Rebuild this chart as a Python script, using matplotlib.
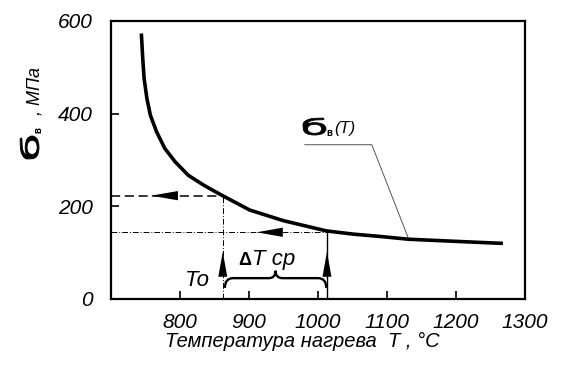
import matplotlib
matplotlib.use("Agg")
import matplotlib.pyplot as plt
import matplotlib.transforms as mtransforms
from matplotlib.path import Path
from matplotlib.patches import PathPatch
from matplotlib.textpath import TextPath
from matplotlib.font_manager import FontProperties

# curve sigma_b(T)
temp = [744, 746, 748, 752, 757, 766, 778, 793, 812, 834, 858, 901, 950,
        1012, 1051, 1090, 1131, 1206, 1268]
sigma = [573, 519, 476, 433, 397, 361, 325, 296, 267, 246, 226, 192, 169,
         147, 140, 135, 129, 124, 120]

xticks = [800, 900, 1000, 1100, 1200, 1300]
yticks = [0, 200, 400, 600]

t0, s0 = 862, 223       # To and the stress there
t1, s1 = 1013, 144      # upper end of the interval
arr_h = [(758, 797, s0), (911, 949, s1)]   # tip, base, level
arr_v = [(t0, 102, 48), (t1, 102, 48)]     # x, tip, base
leader = ([981, 1078, 1131], [333, 333, 131])

fnt = "Liberation Sans"

fig = plt.figure(figsize=(5.67, 3.72), dpi=100)
ax = fig.add_axes([111 / 567, 73 / 372, 414 / 567, 278 / 372])

ax.plot(temp, sigma, color="black", lw=2.6, solid_capstyle="butt",
        solid_joinstyle="round", zorder=5)

# guide lines
ax.plot([700, t0], [s0, s0], color="black", lw=1.1, ls=(0, (6, 3)))
ax.plot([t0, t0], [0, s0], color="black", lw=0.7, ls=(0, (6, 2, 1, 2)))
ax.plot([700, t1], [s1, s1], color="black", lw=0.7, ls=(0, (6, 2, 1, 2)))
ax.plot([t1, t1], [0, s1], color="black", lw=1.0)

for tip, base, lev in arr_h:
    ax.fill([tip, base, base], [lev, lev + 10, lev - 10], color="black", lw=0, zorder=6)
for x, tip, base in arr_v:
    ax.fill([x, x - 6.5, x + 6.5], [tip, base, base], color="black", lw=0, zorder=6)

# curly brace under delta T
bl, br, by, bpk, bend = 865, 1012, 45, 61, 24
bm = (bl + br) / 2
verts = [(bl, bend), (bl, by), (bl + 12, by),
         (bm - 10, by), (bm, by), (bm, bpk),
         (bm, by), (bm + 10, by),
         (br - 12, by), (br, by), (br, bend)]
codes = [Path.MOVETO, Path.CURVE3, Path.CURVE3,
         Path.LINETO, Path.CURVE3, Path.CURVE3,
         Path.CURVE3, Path.CURVE3,
         Path.LINETO, Path.CURVE3, Path.CURVE3]
ax.add_patch(PathPatch(Path(verts, codes), fill=False, lw=1.7, color="black"))

ax.plot(leader[0], leader[1], color="#555555", lw=0.7)

ax.text(825, 40, "To", fontsize=16, style="italic", family=fnt, ha="center", va="center")
ax.text(903, 73, "Δ", fontsize=13, weight="bold", family=fnt, ha="right", va="baseline")
ax.text(905, 73, "T cp", fontsize=16, style="italic", family=fnt, ha="left", va="baseline")

ax.set_xlim(700, 1300)
ax.set_ylim(0, 600)
ax.set_xticks(xticks)
ax.set_yticks(yticks)
ax.tick_params(direction="in", length=6, width=1.2)
ax.tick_params(axis="x", pad=10)
ax.tick_params(axis="y", pad=13)
for lab in ax.get_xticklabels() + ax.get_yticklabels():
    lab.set_fontfamily(fnt)
    lab.set_fontstyle("italic")
    lab.set_fontsize(15)
for sp in ax.spines.values():
    sp.set_linewidth(1.6)


def px(x, y):
    return x / 567, 1 - y / 372


# the wide "б" sign, drawn as a stretched glyph, box given in pixels (top origin)
def sign(x, y, w, h, rot=0):
    tp = TextPath((0, 0), "б", size=20, prop=FontProperties(family="DejaVu Sans"))
    ex = tp.get_extents()
    tr = (mtransforms.Affine2D().translate(-ex.x0, -ex.y0)
          .scale(w / ex.width, h / ex.height).rotate_deg(rot)
          .translate(x, 372 - y).scale(1 / 567, 1 / 372) + fig.transFigure)
    fig.add_artist(PathPatch(tp, transform=tr, color="black", lw=0.6))


sign(303, 135, 23, 17)
fig.text(*px(326, 136), "в", fontsize=7, weight="bold", family=fnt, ha="left", va="baseline")
fig.text(*px(334, 133), "(T)", fontsize=12, style="italic", family=fnt, ha="left", va="baseline")

sign(39, 159, 23, 19, rot=90)
fig.text(*px(41, 133), "в", fontsize=7, weight="bold", family=fnt, rotation=90,
         rotation_mode="anchor", ha="left", va="baseline")
fig.text(*px(40, 115), ", МПа", fontsize=13, style="italic", family=fnt, rotation=90,
         rotation_mode="anchor", ha="left", va="baseline")

fig.text(*px(165, 347), "Температура нагрева  T , °C", fontsize=14.5, style="italic",
         family=fnt, ha="left", va="baseline")

fig.savefig("out.png", dpi=100)
